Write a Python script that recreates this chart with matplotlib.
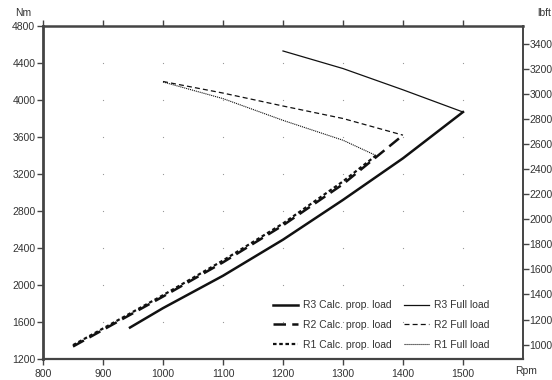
import numpy as np
import matplotlib
matplotlib.use('Agg')
import matplotlib.pyplot as plt

plt.rcParams['font.family'] = ['Liberation Sans', 'DejaVu Sans']

# data (rpm, Nm)
r3_calc_rpm = [945, 1000, 1100, 1200, 1300, 1400, 1500]
r3_calc_nm = [1540, 1750, 2100, 2490, 2920, 3370, 3870]
r2_calc_rpm = [850, 900, 1000, 1100, 1200, 1300, 1400]
r2_calc_nm = [1335, 1515, 1875, 2245, 2645, 3090, 3620]
r1_calc_rpm = [850, 900, 1000, 1100, 1200, 1300, 1355]
r1_calc_nm = [1350, 1530, 1890, 2265, 2665, 3120, 3400]

r3_full_rpm = [1200, 1300, 1400, 1500]
r3_full_nm = [4530, 4340, 4110, 3870]
r2_full_rpm = [1000, 1100, 1200, 1300, 1400]
r2_full_nm = [4200, 4075, 3935, 3800, 3620]
r1_full_rpm = [1000, 1100, 1200, 1300, 1355]
r1_full_nm = [4195, 4015, 3780, 3565, 3400]

x_ticks = [800, 900, 1000, 1100, 1200, 1300, 1400, 1500]
nm_ticks = [1200, 1600, 2000, 2400, 2800, 3200, 3600, 4000, 4400, 4800]
lbft_ticks = [1000, 1200, 1400, 1600, 1800, 2000, 2200, 2400, 2600, 2800, 3000, 3200, 3400]
NM_TO_LBFT = 0.737562

txt = '#333333'
fig = plt.figure(figsize=(5.52, 3.8), dpi=100)
ax = fig.add_axes([43/552, 1 - 359/380, 480/552, 333/380])

ax.plot(r3_calc_rpm, r3_calc_nm, color='#111111', lw=1.8, label='R3 Calc. prop. load')
ax.plot(r2_calc_rpm, r2_calc_nm, color='#111111', lw=1.8, dashes=(5, 2.5), label='R2 Calc. prop. load')
ax.plot(r1_calc_rpm, r1_calc_nm, color='#111111', lw=1.6, dashes=(1.6, 1.2), label='R1 Calc. prop. load')
ax.plot(r3_full_rpm, r3_full_nm, color='#111111', lw=0.9, label='R3 Full load')
ax.plot(r2_full_rpm, r2_full_nm, color='#111111', lw=0.9, dashes=(4, 2.5), label='R2 Full load')
ax.plot(r1_full_rpm, r1_full_nm, color='#111111', lw=0.8, dashes=(1, 0.8), label='R1 Full load')

# dotted grid: single dots at tick intersections
gx, gy = np.meshgrid(x_ticks[1:], nm_ticks[1:-1])
ax.plot(gx.ravel(), gy.ravel(), ls='', marker='s', ms=0.8, color='#999999', mew=0)

ax.set_xlim(800, 1600)
ax.set_ylim(1200, 4800)
ax.set_xticks(x_ticks)
ax.set_yticks(nm_ticks)
ax.tick_params(axis='both', direction='out', length=4, width=1, colors='#444444',
               labelsize=7.5, labelcolor=txt, pad=1.5)
ax.tick_params(axis='x', top=True, pad=3)
for side, lw in [('left', 2), ('top', 1.8), ('bottom', 1.6), ('right', 1.4)]:
    ax.spines[side].set_linewidth(lw)
    ax.spines[side].set_color('#444444')

ax2 = ax.twinx()
ax2.set_ylim(1200 * NM_TO_LBFT, 4800 * NM_TO_LBFT)
ax2.set_yticks(lbft_ticks)
ax2.tick_params(axis='y', direction='out', length=4, width=1, colors='#444444',
                labelsize=7.5, labelcolor=txt, pad=0.5)
for s in ax2.spines.values():
    s.set_visible(False)

fig.text(15/552, 1 - 13/380, 'Nm', fontsize=7.5, color=txt, va='center')
fig.text(551/552, 1 - 13/380, 'lbft', fontsize=7.5, color=txt, va='center', ha='right')
fig.text(537/552, 1 - 371/380, 'Rpm', fontsize=7.5, color=txt, va='center', ha='right')

ax.legend(ncol=2, loc='lower right', bbox_to_anchor=(0.931, 0.027), frameon=False,
          fontsize=7.5, handlelength=2.4, columnspacing=1.1, labelspacing=0.95,
          handletextpad=0.55, borderpad=0, borderaxespad=0, labelcolor=txt)

fig.savefig('out.png', dpi=100)
